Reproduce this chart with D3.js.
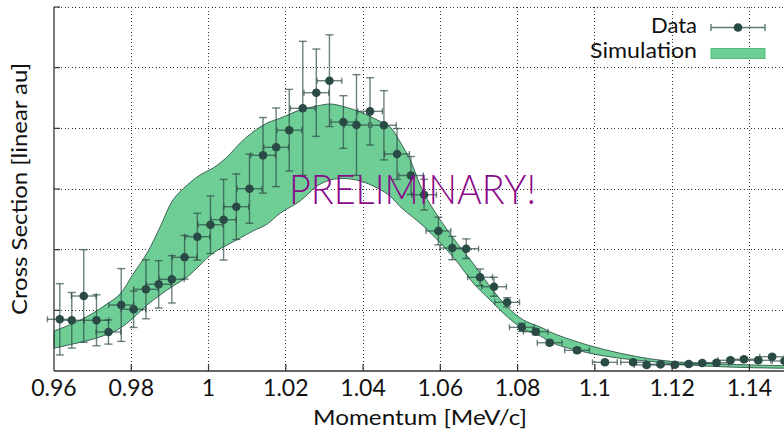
<!DOCTYPE html>
<html>
<head>
<meta charset="utf-8">
<script src="https://cdn.jsdelivr.net/npm/d3@7"></script>
<style>
  html, body { margin: 0; padding: 0; background: #fff; }
  svg { display: block; }
  text { font-family: Lato, "Open Sans", sans-serif; fill: #111; }
</style>
</head>
<body>
<svg id="chart" width="784" height="430"></svg>
<script>
// ---- data ----
const momentum = [0.9615, 0.9646, 0.9677, 0.9710, 0.9741, 0.9774, 0.9806, 0.9838, 0.9871, 0.9905,
  0.9938, 0.9971, 1.0005, 1.0039, 1.0072, 1.0106, 1.0141, 1.0175, 1.0209, 1.0244,
  1.0279, 1.0313, 1.0349, 1.0383, 1.0418, 1.0454, 1.0488, 1.0524, 1.0558, 1.0595,
  1.0631, 1.0667, 1.0703, 1.0739, 1.0773, 1.0811, 1.0847, 1.0883, 1.0954, 1.1026,
  1.1099, 1.1134, 1.1170, 1.1207, 1.1243, 1.1278, 1.1315, 1.1351, 1.1386, 1.1423,
  1.1459, 1.1491];
const crossSection = [0.852, 0.836, 1.236, 0.836, 0.643, 1.088, 1.017, 1.347, 1.429, 1.511,
  1.874, 2.214, 2.411, 2.494, 2.708, 3.005, 3.555, 3.687, 3.969, 4.330,
  4.587, 4.785, 4.104, 4.055, 4.280, 4.050, 3.577, 3.222, 2.906, 2.308,
  2.027, 2.016, 1.544, 1.389, 1.132, 0.720, 0.648, 0.466, 0.341, 0.143,
  0.143, 0.099, 0.110, 0.104, 0.115, 0.132, 0.137, 0.176, 0.193, 0.176,
  0.236, 0.165];
const crossSectionErr = [0.588, 0.458, 0.764, 0.420, 0.200, 0.600, 0.300, 0.486, 0.390, 0.390,
  0.360, 0.385, 0.475, 0.664, 0.540, 0.569, 0.623, 0.648, 0.673, 1.104,
  0.720, 0.756, 0.434, 0.830, 0.555, 0.571, 0.420, 0.313, 0.253, 0.228,
  0.192, 0.162, 0.138, 0.157, 0.077, 0.068, 0.050, 0.040, 0.040, 0.030,
  0.030, 0.030, 0.030, 0.030, 0.030, 0.030, 0.030, 0.030, 0.030, 0.030,
  0.030, 0.030];
const momentumErr = 0.0032;

const simMomentum = [0.9600, 0.9649, 0.9693, 0.9737, 0.9771, 0.9805, 0.9841, 0.9875, 0.9908, 0.9945,
  0.9978, 1.0012, 1.0048, 1.0082, 1.0115, 1.0152, 1.0185, 1.0237, 1.0281, 1.0315,
  1.0349, 1.0393, 1.0437, 1.0470, 1.0496, 1.0522, 1.0556, 1.0600, 1.0644, 1.0685,
  1.0729, 1.0773, 1.0815, 1.0859, 1.0892, 1.0981, 1.1066, 1.1151, 1.1240, 1.1325,
  1.1410, 1.1501];
const simUpper = [0.659, 0.783, 0.923, 1.104, 1.269, 1.599, 1.945, 2.378, 2.819, 3.066,
  3.231, 3.346, 3.527, 3.758, 3.939, 4.088, 4.165, 4.302, 4.368, 4.401,
  4.360, 4.269, 4.137, 4.022, 3.775, 3.478, 2.950, 2.489, 2.102, 1.775,
  1.389, 1.059, 0.841, 0.725, 0.622, 0.429, 0.292, 0.193, 0.137, 0.115,
  0.099, 0.087];
const simLower = [0.376, 0.445, 0.511, 0.602, 0.704, 0.874, 1.088, 1.253, 1.401, 1.549,
  1.747, 1.945, 2.077, 2.192, 2.308, 2.423, 2.599, 2.802, 3.049, 3.148,
  3.173, 3.132, 3.016, 2.884, 2.708, 2.571, 2.390, 2.110, 1.797, 1.450,
  1.170, 0.896, 0.692, 0.577, 0.457, 0.302, 0.209, 0.153, 0.099, 0.071,
  0.054, 0.045];

const xTicks = [0.96, 0.98, 1.00, 1.02, 1.04, 1.06, 1.08, 1.10, 1.12, 1.14];
const xTickLabels = ["0.96", "0.98", "1", "1.02", "1.04", "1.06", "1.08", "1.1", "1.12", "1.14"];
const yTicks = [0, 1, 2, 3, 4, 5, 6];

// ---- layout ----
const svg = d3.select("#chart");
const pLeft = 54, pRight = 788, pTop = 7, pBottom = 371;
const x = d3.scaleLinear().domain([0.96, 1.15]).range([pLeft, pRight]);
const y = d3.scaleLinear().domain([0, 6]).range([pBottom, pTop]);

const gridColor = "#333";
// grid
const grid = svg.append("g");
grid.selectAll("line.v").data(xTicks.slice(1)).join("line")
  .attr("x1", d => x(d)).attr("x2", d => x(d))
  .attr("y1", pTop).attr("y2", pBottom)
  .attr("stroke", gridColor).attr("stroke-width", 1).attr("stroke-dasharray", "1,2.5")
  .attr("shape-rendering", "crispEdges");
grid.selectAll("line.h").data(yTicks.slice(1)).join("line")
  .attr("x1", pLeft).attr("x2", pRight)
  .attr("y1", d => y(d)).attr("y2", d => y(d))
  .attr("stroke", gridColor).attr("stroke-width", 1).attr("stroke-dasharray", "1,2.5")
  .attr("shape-rendering", "crispEdges");

// band
const band = simMomentum.map((m, i) => ({ m, lo: simLower[i], hi: simUpper[i] }));
const area = d3.area().x(d => x(d.m)).y0(d => y(d.lo)).y1(d => y(d.hi)).curve(d3.curveCatmullRom.alpha(0.5));
svg.append("path").datum(band).attr("d", area)
  .attr("fill", "#6fce95").attr("stroke", "#2f5248").attr("stroke-width", 0.9);

// data error bars
const pts = momentum.map((m, i) => ({ m, v: crossSection[i], e: crossSectionErr[i] }));
const eb = svg.append("g").attr("stroke", "#2c4c47").attr("stroke-width", 1.4).attr("stroke-opacity", 0.7);
const capW = 4, capH = 3;
pts.forEach(d => {
  const cx = x(d.m), cy = y(d.v);
  const x0 = x(d.m - momentumErr), x1 = x(d.m + momentumErr);
  const yt = y(d.v + d.e), yb = y(d.v - d.e);
  const g = eb.append("g");
  g.append("line").attr("x1", x0).attr("x2", x1).attr("y1", cy).attr("y2", cy);
  g.append("line").attr("x1", x0).attr("x2", x0).attr("y1", cy - capH).attr("y2", cy + capH);
  g.append("line").attr("x1", x1).attr("x2", x1).attr("y1", cy - capH).attr("y2", cy + capH);
  g.append("line").attr("x1", cx).attr("x2", cx).attr("y1", yt).attr("y2", yb);
  g.append("line").attr("x1", cx - capW).attr("x2", cx + capW).attr("y1", yt).attr("y2", yt);
  g.append("line").attr("x1", cx - capW).attr("x2", cx + capW).attr("y1", yb).attr("y2", yb);
});
svg.append("g").selectAll("circle").data(pts).join("circle")
  .attr("cx", d => x(d.m)).attr("cy", d => y(d.v)).attr("r", 4.3)
  .attr("fill", "#2a4a45");

// axes
const axisColor = "#333";
svg.append("line").attr("x1", pLeft).attr("x2", pLeft).attr("y1", pTop).attr("y2", pBottom)
  .attr("stroke", axisColor).attr("stroke-width", 1.3);
svg.append("line").attr("x1", pLeft).attr("x2", 784).attr("y1", pBottom).attr("y2", pBottom)
  .attr("stroke", axisColor).attr("stroke-width", 1.3);
svg.append("g").selectAll("line").data(yTicks.slice(1)).join("line")
  .attr("x1", pLeft).attr("x2", pLeft + 6).attr("y1", d => y(d)).attr("y2", d => y(d))
  .attr("stroke", axisColor).attr("stroke-width", 1.2);
svg.append("g").selectAll("line").data(xTicks.slice(1)).join("line")
  .attr("x1", d => x(d)).attr("x2", d => x(d)).attr("y1", pBottom).attr("y2", pBottom - 7)
  .attr("stroke", axisColor).attr("stroke-width", 1.2);
svg.append("g").selectAll("text").data(xTicks).join("text")
  .attr("x", d => x(d)).attr("y", 396).attr("text-anchor", "middle")
  .attr("font-size", 23).text((d, i) => xTickLabels[i]);

svg.append("text").attr("x", 420).attr("y", 425).attr("text-anchor", "middle")
  .attr("font-size", 22).attr("textLength", 214).attr("lengthAdjust", "spacingAndGlyphs")
  .text("Momentum [MeV/c]");
svg.append("text").attr("transform", "translate(27,189) rotate(-90)").attr("text-anchor", "middle")
  .attr("font-size", 22).attr("textLength", 252).attr("lengthAdjust", "spacingAndGlyphs")
  .text("Cross Section [linear au]");

// watermark
svg.append("text").attr("x", 289).attr("y", 204)
  .attr("font-size", 41).attr("font-weight", 300)
  .attr("textLength", 247).attr("lengthAdjust", "spacingAndGlyphs")
  .style("fill", "#8a0a8a").text("PRELIMINARY!");

// legend
svg.append("text").attr("x", 697).attr("y", 33).attr("text-anchor", "end").attr("font-size", 22)
  .text("Data");
svg.append("text").attr("x", 697).attr("y", 58).attr("text-anchor", "end").attr("font-size", 22)
  .attr("textLength", 107).attr("lengthAdjust", "spacingAndGlyphs").text("Simulation");
const lg = svg.append("g").attr("stroke", "#5c7a75").attr("stroke-width", 1.4);
lg.append("line").attr("x1", 711).attr("x2", 765).attr("y1", 27.5).attr("y2", 27.5);
lg.append("line").attr("x1", 711).attr("x2", 711).attr("y1", 24).attr("y2", 31);
lg.append("line").attr("x1", 765).attr("x2", 765).attr("y1", 24).attr("y2", 31);
svg.append("circle").attr("cx", 738).attr("cy", 27.5).attr("r", 4.3).attr("fill", "#2a4a45");
svg.append("rect").attr("x", 711).attr("y", 48.5).attr("width", 54).attr("height", 10)
  .attr("fill", "#6fce95").attr("stroke", "#4fbf78").attr("stroke-width", 1);
</script>
</body>
</html>
